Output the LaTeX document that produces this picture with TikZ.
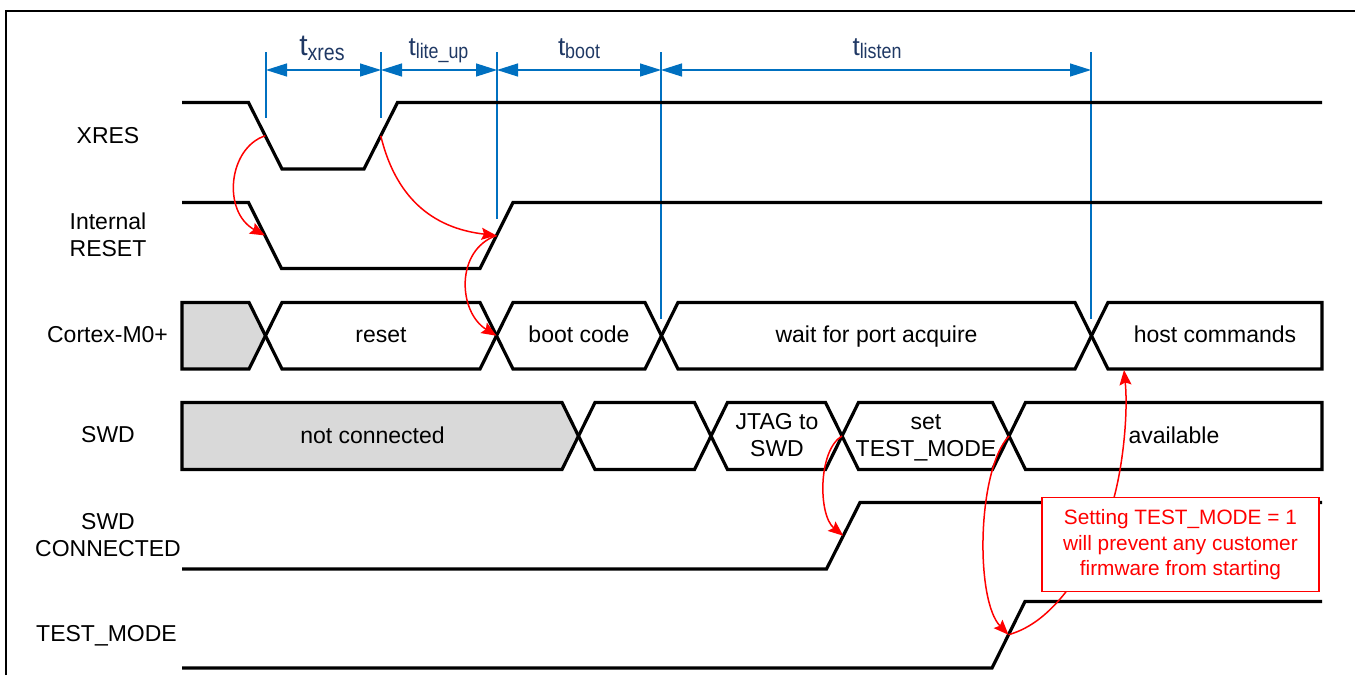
\documentclass[tikz,border=0pt]{standalone}
\usepackage{fontspec}
\usepackage{graphicx}
\setmainfont{Liberation Sans}
\usetikzlibrary{arrows.meta}
\definecolor{dimblue}{HTML}{0070C0}
\definecolor{tnavy}{HTML}{1F3864}
\definecolor{busgray}{HTML}{D9D9D9}
\definecolor{callred}{HTML}{FF0000}
\newcommand{\hexa}[5][bus]{\draw[#1] (#2,{(#4+#5)/2}) -- ({#2+16.5},#4) -- ({#3-16.5},#4) -- (#3,{(#4+#5)/2}) -- ({#3-16.5},#5) -- ({#2+16.5},#5) -- cycle;}
\newcommand{\tlab}[4]{{\fontsize{#1}{#1}\selectfont t}\raisebox{-#3}{\scalebox{0.85}[1]{\fontsize{#2}{#2}\selectfont #4}}}
\begin{document}
\begin{tikzpicture}[x=1pt,y=-1pt,
  sig/.style={line width=3.2pt, line join=miter},
  bus/.style={sig, fill=white},
  busg/.style={sig, fill=busgray},
  lbl/.style={font=\fontsize{23}{27.4}\selectfont, align=center, inner sep=0pt},
  clbl/.style={font=\fontsize{20.8}{25.4}\selectfont, align=center, text=callred},
  tick/.style={draw=dimblue, line width=1.3pt},
  dimarr/.style={draw=dimblue, line width=1.3pt, arrows={Triangle[length=21pt,width=13pt]-Triangle[length=21pt,width=13pt]}},
  tl/.style={anchor=base, text=tnavy, inner sep=0pt},
  redarr/.style={draw=callred, line width=1.5pt, -{Stealth[length=15pt,width=12pt,inset=2.5pt]}},
  redln/.style={draw=callred, line width=1.5pt}]
\useasboundingbox (0,0) rectangle (1355,675);
% frame
\draw[line width=2pt] (6,675) -- (6,10.5) -- (1355,10.5);
% signal labels
\node[lbl, anchor=base] (lxres) at (108,143.4) {XRES};
\node[lbl] (lintr) at (108,234.9) {Internal\\RESET};
\node[lbl, anchor=base] (lcortex) at (107.5,342.4) {Cortex-M0+};
\node[lbl, anchor=base] (lswd) at (108,442.7) {SWD};
\node[lbl] (lswdc) at (108,535.3) {SWD\\CONNECTED};
\node[lbl, anchor=base] (ltm) at (106.5,641.7) {TEST\_MODE};
% timing lines
\coordinate (v1) at (266,52); \coordinate (v1b) at (266,118);
\coordinate (v2) at (381,52); \coordinate (v2b) at (381,118);
\coordinate (v3) at (497,52); \coordinate (v3b) at (497,219);
\coordinate (v4) at (661,52); \coordinate (v4b) at (661,319);
\coordinate (v5) at (1091,52); \coordinate (v5b) at (1091,319);
\draw[tick] (v1) -- (v1b);
\draw[tick] (v2) -- (v2b);
\draw[tick] (v3) -- (v3b);
\draw[tick] (v4) -- (v4b);
\draw[tick] (v5) -- (v5b);
\coordinate (d1) at (266,70); \coordinate (d2) at (381,70); \coordinate (d3) at (497,70);
\coordinate (d4) at (661,70); \coordinate (d5) at (1091,70);
\draw[dimarr] (d1) -- (d2);
\draw[dimarr] (d2) -- (d3);
\draw[dimarr] (d3) -- (d4);
\draw[dimarr] (d4) -- (d5);
\node[tl] (txres) at (322,55) {\tlab{30}{23}{5pt}{xres}};
\node[tl] (tlite) at (438.5,55) {\tlab{26}{21}{3.5pt}{lite\_up}};
\node[tl] (tboot) at (579,55) {\tlab{26}{21}{3.5pt}{boot}};
\node[tl] (tlisten) at (877,55) {\tlab{26}{21}{3.5pt}{listen}};
% XRES
\draw[sig] (182,102.5) -- (248.5,102.5) -- (282,169) -- (364,169) -- (397.5,102.5) -- (1322,102.5);
% Internal RESET
\draw[sig] (182,202.5) -- (248.5,202.5) -- (281.5,268.5) -- (480,268.5) -- (513,202.5) -- (1322,202.5);
% Cortex-M0+
\draw[busg] (182,302.5) -- (249,302.5) -- (265.5,335.75) -- (249,369) -- (182,369) -- cycle;
\hexa{265.5}{496.5}{302.5}{369}
\hexa{496.5}{661.5}{302.5}{369}
\hexa{661.5}{1091.5}{302.5}{369}
\draw[bus] (1091.5,335.75) -- (1108,302.5) -- (1322,302.5) -- (1322,369) -- (1108,369) -- cycle;
\node[lbl, anchor=base] (treset) at (381,342.5) {reset};
\node[lbl, anchor=base] (tbootc) at (579,342.5) {boot code};
\node[lbl, anchor=base] (twait) at (876.5,342.5) {wait for port acquire};
\node[lbl, anchor=base] (thost) at (1215,342.5) {host commands};
% SWD
\draw[busg] (182,402.5) -- (562,402.5) -- (578.5,436) -- (562,469.5) -- (182,469.5) -- cycle;
\hexa{578.5}{711}{402.5}{469.5}
\hexa{711}{842}{402.5}{469.5}
\hexa{842}{1009}{402.5}{469.5}
\draw[bus] (1009,436) -- (1025.5,402.5) -- (1322,402.5) -- (1322,469.5) -- (1025.5,469.5) -- cycle;
\node[lbl, anchor=base] (tnc) at (372.5,443) {not connected};
\node[lbl] (tjtag) at (777,434.95) {JTAG to\\SWD};
\node[lbl] (tset) at (926,437.7) {set\\TEST\_MODE};
\node[lbl, anchor=base] (tavail) at (1174,443) {available};
% SWD CONNECTED
\draw[sig] (182,569) -- (826.5,569) -- (860,502.5) -- (1322,502.5);
% TEST_MODE
\draw[sig] (182,668) -- (992,668) -- (1025,601.5) -- (1322,601.5);
% callout
\node[draw=callred, line width=1.5pt, fill=white, minimum width=277pt, minimum height=94pt, inner sep=0pt, clbl] (note) at (1180.4,544.7)
  {Setting TEST\_MODE = 1\\will prevent any customer\\firmware from starting};
% event coordinates
\coordinate (xf) at (265.25,135.75);
\coordinate (xr) at (380.75,135.75);
\coordinate (rf) at (265,235.5);
\coordinate (rr) at (496.5,235.5);
\coordinate (c1) at (496.5,335.75);
\coordinate (s3) at (842,436);
\coordinate (s4) at (1009,436);
\coordinate (sc) at (843.25,535.75);
\coordinate (tm) at (1008.5,634.75);
\coordinate (hb) at (1124,370);
\coordinate (nt) at (1114,497.6);
\coordinate (nb) at (1066,591.8);
% red arrows
\draw[redarr] (xf) .. controls (228,148) and (222,212) .. (rf);
\draw[redarr] (xr) .. controls (395,195) and (430,228) .. (rr);
\draw[redarr] (rr) .. controls (455,250) and (458,312) .. (c1);
\draw[redarr] (s3) .. controls (818,450) and (818,515) .. (sc);
\draw[redarr] (s4) .. controls (977,470) and (975,600) .. (tm);
\draw[redarr] (nt) .. controls (1124,460) and (1128,410) .. (hb);
\draw[redln] (nb) .. controls (1050,612) and (1032,628) .. (tm);
\end{tikzpicture}
\end{document}
